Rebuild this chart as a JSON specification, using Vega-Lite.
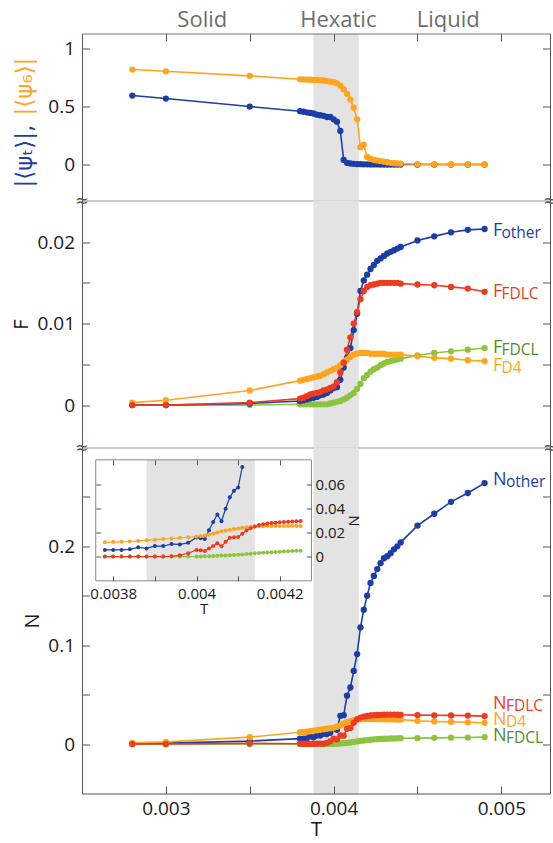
{
"$schema": "https://vega.github.io/schema/vega-lite/v6.json",
"padding": {"left": 11, "top": 8.5, "right": 0, "bottom": 0},
"bounds": "flush",
"spacing": 0,
"config": {
  "view": {"stroke": null},
  "font": "Open Sans",
  "axis": {"grid": false, "labelFont": "Open Sans", "titleFont": "Open Sans", "labelFontSize": 19, "titleFontSize": 20, "titleFontWeight": "normal", "labelColor": "#1a1a1a", "titleColor": "#1a1a1a", "domainColor": "#555", "tickColor": "#555", "tickSize": -7.5, "labelPadding": 13, "labelFlush": false, "labelOverlap": false}
},
"datasets": {
"main": [
{"p":"psi","s":"t","T":0.0028,"v":0.595},{"p":"psi","s":"t","T":0.003,"v":0.569},{"p":"psi","s":"t","T":0.0035,"v":0.5},{"p":"psi","s":"t","T":0.0038,"v":0.46},{"p":"psi","s":"t","T":0.00382,"v":0.455},{"p":"psi","s":"t","T":0.00384,"v":0.45},{"p":"psi","s":"t","T":0.00386,"v":0.445},{"p":"psi","s":"t","T":0.00388,"v":0.44},{"p":"psi","s":"t","T":0.0039,"v":0.43},{"p":"psi","s":"t","T":0.00392,"v":0.425},{"p":"psi","s":"t","T":0.00394,"v":0.42},{"p":"psi","s":"t","T":0.00396,"v":0.41},{"p":"psi","s":"t","T":0.00398,"v":0.41},{"p":"psi","s":"t","T":0.004,"v":0.39},{"p":"psi","s":"t","T":0.00402,"v":0.37},{"p":"psi","s":"t","T":0.00404,"v":0.29},{"p":"psi","s":"t","T":0.00406,"v":0.04},{"p":"psi","s":"t","T":0.00408,"v":0.015},{"p":"psi","s":"t","T":0.0041,"v":0.01},{"p":"psi","s":"t","T":0.00412,"v":0.006},{"p":"psi","s":"t","T":0.00414,"v":0.004},{"p":"psi","s":"t","T":0.00416,"v":0.003},{"p":"psi","s":"t","T":0.00418,"v":0.002},{"p":"psi","s":"t","T":0.0042,"v":0.002},{"p":"psi","s":"t","T":0.00422,"v":0.001},{"p":"psi","s":"t","T":0.00424,"v":0.001},{"p":"psi","s":"t","T":0.00426,"v":0.001},{"p":"psi","s":"t","T":0.00428,"v":0},{"p":"psi","s":"t","T":0.0043,"v":0},{"p":"psi","s":"t","T":0.00432,"v":0},{"p":"psi","s":"t","T":0.00434,"v":0},{"p":"psi","s":"t","T":0.00436,"v":0},{"p":"psi","s":"t","T":0.00438,"v":0},{"p":"psi","s":"t","T":0.0044,"v":0},{"p":"psi","s":"t","T":0.0045,"v":0},{"p":"psi","s":"t","T":0.0046,"v":0},{"p":"psi","s":"t","T":0.0047,"v":0},{"p":"psi","s":"t","T":0.0048,"v":0},{"p":"psi","s":"t","T":0.0049,"v":0},
{"p":"psi","s":"6","T":0.0028,"v":0.819},{"p":"psi","s":"6","T":0.003,"v":0.804},{"p":"psi","s":"6","T":0.0035,"v":0.765},{"p":"psi","s":"6","T":0.0038,"v":0.735},{"p":"psi","s":"6","T":0.00382,"v":0.735},{"p":"psi","s":"6","T":0.00384,"v":0.733},{"p":"psi","s":"6","T":0.00386,"v":0.732},{"p":"psi","s":"6","T":0.00388,"v":0.73},{"p":"psi","s":"6","T":0.0039,"v":0.73},{"p":"psi","s":"6","T":0.00392,"v":0.728},{"p":"psi","s":"6","T":0.00394,"v":0.725},{"p":"psi","s":"6","T":0.00396,"v":0.72},{"p":"psi","s":"6","T":0.00398,"v":0.715},{"p":"psi","s":"6","T":0.004,"v":0.71},{"p":"psi","s":"6","T":0.00402,"v":0.7},{"p":"psi","s":"6","T":0.00404,"v":0.68},{"p":"psi","s":"6","T":0.00406,"v":0.65},{"p":"psi","s":"6","T":0.00408,"v":0.61},{"p":"psi","s":"6","T":0.0041,"v":0.56},{"p":"psi","s":"6","T":0.00412,"v":0.49},{"p":"psi","s":"6","T":0.00414,"v":0.39},{"p":"psi","s":"6","T":0.00416,"v":0.15},{"p":"psi","s":"6","T":0.00418,"v":0.17},{"p":"psi","s":"6","T":0.0042,"v":0.065},{"p":"psi","s":"6","T":0.00422,"v":0.05},{"p":"psi","s":"6","T":0.00424,"v":0.04},{"p":"psi","s":"6","T":0.00426,"v":0.035},{"p":"psi","s":"6","T":0.00428,"v":0.03},{"p":"psi","s":"6","T":0.0043,"v":0.025},{"p":"psi","s":"6","T":0.00432,"v":0.02},{"p":"psi","s":"6","T":0.00434,"v":0.015},{"p":"psi","s":"6","T":0.00436,"v":0.012},{"p":"psi","s":"6","T":0.00438,"v":0.01},{"p":"psi","s":"6","T":0.0044,"v":0.008},{"p":"psi","s":"6","T":0.0045,"v":0.004},{"p":"psi","s":"6","T":0.0046,"v":0.002},{"p":"psi","s":"6","T":0.0047,"v":0.001},{"p":"psi","s":"6","T":0.0048,"v":0.001},{"p":"psi","s":"6","T":0.0049,"v":0.001},
{"p":"F","s":"FDCL","T":0.0028,"v":0},{"p":"F","s":"FDCL","T":0.003,"v":0},{"p":"F","s":"FDCL","T":0.0035,"v":0},{"p":"F","s":"FDCL","T":0.0038,"v":0.0001},{"p":"F","s":"FDCL","T":0.00382,"v":0.0001},{"p":"F","s":"FDCL","T":0.00384,"v":0.0001},{"p":"F","s":"FDCL","T":0.00386,"v":0.0001},{"p":"F","s":"FDCL","T":0.00388,"v":0.0001},{"p":"F","s":"FDCL","T":0.0039,"v":0.0001},{"p":"F","s":"FDCL","T":0.00392,"v":0.0001},{"p":"F","s":"FDCL","T":0.00394,"v":0.0001},{"p":"F","s":"FDCL","T":0.00396,"v":0.0001},{"p":"F","s":"FDCL","T":0.00398,"v":0.0002},{"p":"F","s":"FDCL","T":0.004,"v":0.0003},{"p":"F","s":"FDCL","T":0.00402,"v":0.0004},{"p":"F","s":"FDCL","T":0.00404,"v":0.0005},{"p":"F","s":"FDCL","T":0.00406,"v":0.0007},{"p":"F","s":"FDCL","T":0.00408,"v":0.0009},{"p":"F","s":"FDCL","T":0.0041,"v":0.0012},{"p":"F","s":"FDCL","T":0.00412,"v":0.0015},{"p":"F","s":"FDCL","T":0.00414,"v":0.002},{"p":"F","s":"FDCL","T":0.00416,"v":0.0026},{"p":"F","s":"FDCL","T":0.00418,"v":0.0033},{"p":"F","s":"FDCL","T":0.0042,"v":0.0037},{"p":"F","s":"FDCL","T":0.00422,"v":0.0041},{"p":"F","s":"FDCL","T":0.00424,"v":0.0044},{"p":"F","s":"FDCL","T":0.00426,"v":0.0046},{"p":"F","s":"FDCL","T":0.00428,"v":0.0049},{"p":"F","s":"FDCL","T":0.0043,"v":0.0051},{"p":"F","s":"FDCL","T":0.00432,"v":0.0053},{"p":"F","s":"FDCL","T":0.00434,"v":0.0054},{"p":"F","s":"FDCL","T":0.00436,"v":0.0055},{"p":"F","s":"FDCL","T":0.00438,"v":0.0056},{"p":"F","s":"FDCL","T":0.0044,"v":0.0057},{"p":"F","s":"FDCL","T":0.0045,"v":0.0061},{"p":"F","s":"FDCL","T":0.0046,"v":0.0064},{"p":"F","s":"FDCL","T":0.0047,"v":0.0066},{"p":"F","s":"FDCL","T":0.0048,"v":0.0068},{"p":"F","s":"FDCL","T":0.0049,"v":0.007},
{"p":"F","s":"other","T":0.0028,"v":0},{"p":"F","s":"other","T":0.003,"v":0},{"p":"F","s":"other","T":0.0035,"v":0.0002},{"p":"F","s":"other","T":0.0038,"v":0.0005},{"p":"F","s":"other","T":0.00382,"v":0.0006},{"p":"F","s":"other","T":0.00384,"v":0.0007},{"p":"F","s":"other","T":0.00386,"v":0.0008},{"p":"F","s":"other","T":0.00388,"v":0.0009},{"p":"F","s":"other","T":0.0039,"v":0.001},{"p":"F","s":"other","T":0.00392,"v":0.0012},{"p":"F","s":"other","T":0.00394,"v":0.0013},{"p":"F","s":"other","T":0.00396,"v":0.0015},{"p":"F","s":"other","T":0.00398,"v":0.0018},{"p":"F","s":"other","T":0.004,"v":0.0021},{"p":"F","s":"other","T":0.00402,"v":0.0022},{"p":"F","s":"other","T":0.00404,"v":0.0031},{"p":"F","s":"other","T":0.00406,"v":0.0046},{"p":"F","s":"other","T":0.00408,"v":0.0058},{"p":"F","s":"other","T":0.0041,"v":0.007},{"p":"F","s":"other","T":0.00412,"v":0.0092},{"p":"F","s":"other","T":0.00414,"v":0.0112},{"p":"F","s":"other","T":0.00416,"v":0.014},{"p":"F","s":"other","T":0.00418,"v":0.0153},{"p":"F","s":"other","T":0.0042,"v":0.016},{"p":"F","s":"other","T":0.00422,"v":0.0167},{"p":"F","s":"other","T":0.00424,"v":0.0172},{"p":"F","s":"other","T":0.00426,"v":0.0177},{"p":"F","s":"other","T":0.00428,"v":0.018},{"p":"F","s":"other","T":0.0043,"v":0.0183},{"p":"F","s":"other","T":0.00432,"v":0.0186},{"p":"F","s":"other","T":0.00434,"v":0.0188},{"p":"F","s":"other","T":0.00436,"v":0.019},{"p":"F","s":"other","T":0.00438,"v":0.0192},{"p":"F","s":"other","T":0.0044,"v":0.0194},{"p":"F","s":"other","T":0.0045,"v":0.0202},{"p":"F","s":"other","T":0.0046,"v":0.0207},{"p":"F","s":"other","T":0.0047,"v":0.0212},{"p":"F","s":"other","T":0.0048,"v":0.0215},{"p":"F","s":"other","T":0.0049,"v":0.0216},
{"p":"F","s":"D4","T":0.0028,"v":0.0003},{"p":"F","s":"D4","T":0.003,"v":0.0006},{"p":"F","s":"D4","T":0.0035,"v":0.0018},{"p":"F","s":"D4","T":0.0038,"v":0.003},{"p":"F","s":"D4","T":0.00382,"v":0.0031},{"p":"F","s":"D4","T":0.00384,"v":0.0032},{"p":"F","s":"D4","T":0.00386,"v":0.0033},{"p":"F","s":"D4","T":0.00388,"v":0.0034},{"p":"F","s":"D4","T":0.0039,"v":0.0035},{"p":"F","s":"D4","T":0.00392,"v":0.0036},{"p":"F","s":"D4","T":0.00394,"v":0.0038},{"p":"F","s":"D4","T":0.00396,"v":0.004},{"p":"F","s":"D4","T":0.00398,"v":0.0042},{"p":"F","s":"D4","T":0.004,"v":0.0044},{"p":"F","s":"D4","T":0.00402,"v":0.0046},{"p":"F","s":"D4","T":0.00404,"v":0.0049},{"p":"F","s":"D4","T":0.00406,"v":0.0053},{"p":"F","s":"D4","T":0.00408,"v":0.0056},{"p":"F","s":"D4","T":0.0041,"v":0.0059},{"p":"F","s":"D4","T":0.00412,"v":0.0062},{"p":"F","s":"D4","T":0.00414,"v":0.0063},{"p":"F","s":"D4","T":0.00416,"v":0.0064},{"p":"F","s":"D4","T":0.00418,"v":0.0064},{"p":"F","s":"D4","T":0.0042,"v":0.0064},{"p":"F","s":"D4","T":0.00422,"v":0.0063},{"p":"F","s":"D4","T":0.00424,"v":0.0063},{"p":"F","s":"D4","T":0.00426,"v":0.0063},{"p":"F","s":"D4","T":0.00428,"v":0.0063},{"p":"F","s":"D4","T":0.0043,"v":0.0063},{"p":"F","s":"D4","T":0.00432,"v":0.0062},{"p":"F","s":"D4","T":0.00434,"v":0.0062},{"p":"F","s":"D4","T":0.00436,"v":0.0062},{"p":"F","s":"D4","T":0.00438,"v":0.0062},{"p":"F","s":"D4","T":0.0044,"v":0.0062},{"p":"F","s":"D4","T":0.0045,"v":0.006},{"p":"F","s":"D4","T":0.0046,"v":0.0058},{"p":"F","s":"D4","T":0.0047,"v":0.0057},{"p":"F","s":"D4","T":0.0048,"v":0.0055},{"p":"F","s":"D4","T":0.0049,"v":0.0054},
{"p":"F","s":"FDLC","T":0.0028,"v":0},{"p":"F","s":"FDLC","T":0.003,"v":0},{"p":"F","s":"FDLC","T":0.0035,"v":0.0003},{"p":"F","s":"FDLC","T":0.0038,"v":0.0008},{"p":"F","s":"FDLC","T":0.00382,"v":0.0009},{"p":"F","s":"FDLC","T":0.00384,"v":0.0011},{"p":"F","s":"FDLC","T":0.00386,"v":0.0013},{"p":"F","s":"FDLC","T":0.00388,"v":0.0014},{"p":"F","s":"FDLC","T":0.0039,"v":0.0015},{"p":"F","s":"FDLC","T":0.00392,"v":0.0016},{"p":"F","s":"FDLC","T":0.00394,"v":0.0018},{"p":"F","s":"FDLC","T":0.00396,"v":0.0019},{"p":"F","s":"FDLC","T":0.00398,"v":0.0021},{"p":"F","s":"FDLC","T":0.004,"v":0.0023},{"p":"F","s":"FDLC","T":0.00402,"v":0.0028},{"p":"F","s":"FDLC","T":0.00404,"v":0.004},{"p":"F","s":"FDLC","T":0.00406,"v":0.0052},{"p":"F","s":"FDLC","T":0.00408,"v":0.0068},{"p":"F","s":"FDLC","T":0.0041,"v":0.0083},{"p":"F","s":"FDLC","T":0.00412,"v":0.01},{"p":"F","s":"FDLC","T":0.00414,"v":0.0114},{"p":"F","s":"FDLC","T":0.00416,"v":0.013},{"p":"F","s":"FDLC","T":0.00418,"v":0.014},{"p":"F","s":"FDLC","T":0.0042,"v":0.0145},{"p":"F","s":"FDLC","T":0.00422,"v":0.0147},{"p":"F","s":"FDLC","T":0.00424,"v":0.0148},{"p":"F","s":"FDLC","T":0.00426,"v":0.0149},{"p":"F","s":"FDLC","T":0.00428,"v":0.015},{"p":"F","s":"FDLC","T":0.0043,"v":0.015},{"p":"F","s":"FDLC","T":0.00432,"v":0.015},{"p":"F","s":"FDLC","T":0.00434,"v":0.015},{"p":"F","s":"FDLC","T":0.00436,"v":0.015},{"p":"F","s":"FDLC","T":0.00438,"v":0.015},{"p":"F","s":"FDLC","T":0.0044,"v":0.0149},{"p":"F","s":"FDLC","T":0.0045,"v":0.0148},{"p":"F","s":"FDLC","T":0.0046,"v":0.0147},{"p":"F","s":"FDLC","T":0.0047,"v":0.0145},{"p":"F","s":"FDLC","T":0.0048,"v":0.0143},{"p":"F","s":"FDLC","T":0.0049,"v":0.0139},
{"p":"N","s":"FDCL","T":0.0028,"v":0},{"p":"N","s":"FDCL","T":0.003,"v":0},{"p":"N","s":"FDCL","T":0.0035,"v":0},{"p":"N","s":"FDCL","T":0.0038,"v":0},{"p":"N","s":"FDCL","T":0.00382,"v":0},{"p":"N","s":"FDCL","T":0.00384,"v":0},{"p":"N","s":"FDCL","T":0.00386,"v":0},{"p":"N","s":"FDCL","T":0.00388,"v":0},{"p":"N","s":"FDCL","T":0.0039,"v":0},{"p":"N","s":"FDCL","T":0.00392,"v":0},{"p":"N","s":"FDCL","T":0.00394,"v":0},{"p":"N","s":"FDCL","T":0.00396,"v":0},{"p":"N","s":"FDCL","T":0.00398,"v":0},{"p":"N","s":"FDCL","T":0.004,"v":0},{"p":"N","s":"FDCL","T":0.00402,"v":0.0003},{"p":"N","s":"FDCL","T":0.00404,"v":0.0005},{"p":"N","s":"FDCL","T":0.00406,"v":0.0009},{"p":"N","s":"FDCL","T":0.00408,"v":0.0012},{"p":"N","s":"FDCL","T":0.0041,"v":0.0016},{"p":"N","s":"FDCL","T":0.00412,"v":0.0021},{"p":"N","s":"FDCL","T":0.00414,"v":0.0027},{"p":"N","s":"FDCL","T":0.00416,"v":0.0032},{"p":"N","s":"FDCL","T":0.00418,"v":0.0036},{"p":"N","s":"FDCL","T":0.0042,"v":0.004},{"p":"N","s":"FDCL","T":0.00422,"v":0.0044},{"p":"N","s":"FDCL","T":0.00424,"v":0.0048},{"p":"N","s":"FDCL","T":0.00426,"v":0.005},{"p":"N","s":"FDCL","T":0.00428,"v":0.0052},{"p":"N","s":"FDCL","T":0.0043,"v":0.0054},{"p":"N","s":"FDCL","T":0.00432,"v":0.0055},{"p":"N","s":"FDCL","T":0.00434,"v":0.0056},{"p":"N","s":"FDCL","T":0.00436,"v":0.0057},{"p":"N","s":"FDCL","T":0.00438,"v":0.0058},{"p":"N","s":"FDCL","T":0.0044,"v":0.0059},{"p":"N","s":"FDCL","T":0.0045,"v":0.006},{"p":"N","s":"FDCL","T":0.0046,"v":0.0063},{"p":"N","s":"FDCL","T":0.0047,"v":0.0065},{"p":"N","s":"FDCL","T":0.0048,"v":0.0066},{"p":"N","s":"FDCL","T":0.0049,"v":0.007},
{"p":"N","s":"other","T":0.0028,"v":0.0005},{"p":"N","s":"other","T":0.003,"v":0.001},{"p":"N","s":"other","T":0.0035,"v":0.003},{"p":"N","s":"other","T":0.0038,"v":0.0055},{"p":"N","s":"other","T":0.00382,"v":0.0055},{"p":"N","s":"other","T":0.00384,"v":0.0058},{"p":"N","s":"other","T":0.00386,"v":0.0077},{"p":"N","s":"other","T":0.00388,"v":0.0068},{"p":"N","s":"other","T":0.0039,"v":0.0087},{"p":"N","s":"other","T":0.00392,"v":0.0087},{"p":"N","s":"other","T":0.00394,"v":0.0104},{"p":"N","s":"other","T":0.00396,"v":0.0101},{"p":"N","s":"other","T":0.00398,"v":0.0114},{"p":"N","s":"other","T":0.004,"v":0.0159},{"p":"N","s":"other","T":0.00402,"v":0.0145},{"p":"N","s":"other","T":0.00404,"v":0.0286},{"p":"N","s":"other","T":0.00406,"v":0.0292},{"p":"N","s":"other","T":0.00408,"v":0.049},{"p":"N","s":"other","T":0.0041,"v":0.0572},{"p":"N","s":"other","T":0.00412,"v":0.074},{"p":"N","s":"other","T":0.00414,"v":0.091},{"p":"N","s":"other","T":0.00416,"v":0.118},{"p":"N","s":"other","T":0.00418,"v":0.136},{"p":"N","s":"other","T":0.0042,"v":0.15},{"p":"N","s":"other","T":0.00422,"v":0.163},{"p":"N","s":"other","T":0.00424,"v":0.17},{"p":"N","s":"other","T":0.00426,"v":0.177},{"p":"N","s":"other","T":0.00428,"v":0.183},{"p":"N","s":"other","T":0.0043,"v":0.188},{"p":"N","s":"other","T":0.00432,"v":0.19},{"p":"N","s":"other","T":0.00434,"v":0.193},{"p":"N","s":"other","T":0.00436,"v":0.197},{"p":"N","s":"other","T":0.00438,"v":0.2},{"p":"N","s":"other","T":0.0044,"v":0.204},{"p":"N","s":"other","T":0.0045,"v":0.221},{"p":"N","s":"other","T":0.0046,"v":0.233},{"p":"N","s":"other","T":0.0047,"v":0.245},{"p":"N","s":"other","T":0.0048,"v":0.254},{"p":"N","s":"other","T":0.0049,"v":0.264},
{"p":"N","s":"D4","T":0.0028,"v":0.0012},{"p":"N","s":"D4","T":0.003,"v":0.0022},{"p":"N","s":"D4","T":0.0035,"v":0.007},{"p":"N","s":"D4","T":0.0038,"v":0.012},{"p":"N","s":"D4","T":0.00382,"v":0.0122},{"p":"N","s":"D4","T":0.00384,"v":0.0125},{"p":"N","s":"D4","T":0.00386,"v":0.013},{"p":"N","s":"D4","T":0.00388,"v":0.0135},{"p":"N","s":"D4","T":0.0039,"v":0.014},{"p":"N","s":"D4","T":0.00392,"v":0.0145},{"p":"N","s":"D4","T":0.00394,"v":0.015},{"p":"N","s":"D4","T":0.00396,"v":0.0155},{"p":"N","s":"D4","T":0.00398,"v":0.016},{"p":"N","s":"D4","T":0.004,"v":0.0165},{"p":"N","s":"D4","T":0.00402,"v":0.0175},{"p":"N","s":"D4","T":0.00404,"v":0.019},{"p":"N","s":"D4","T":0.00406,"v":0.021},{"p":"N","s":"D4","T":0.00408,"v":0.0222},{"p":"N","s":"D4","T":0.0041,"v":0.0233},{"p":"N","s":"D4","T":0.00412,"v":0.0242},{"p":"N","s":"D4","T":0.00414,"v":0.0249},{"p":"N","s":"D4","T":0.00416,"v":0.0252},{"p":"N","s":"D4","T":0.00418,"v":0.0253},{"p":"N","s":"D4","T":0.0042,"v":0.0253},{"p":"N","s":"D4","T":0.00422,"v":0.0253},{"p":"N","s":"D4","T":0.00424,"v":0.0253},{"p":"N","s":"D4","T":0.00426,"v":0.0252},{"p":"N","s":"D4","T":0.00428,"v":0.0252},{"p":"N","s":"D4","T":0.0043,"v":0.0251},{"p":"N","s":"D4","T":0.00432,"v":0.025},{"p":"N","s":"D4","T":0.00434,"v":0.025},{"p":"N","s":"D4","T":0.00436,"v":0.0249},{"p":"N","s":"D4","T":0.00438,"v":0.0248},{"p":"N","s":"D4","T":0.0044,"v":0.0247},{"p":"N","s":"D4","T":0.0045,"v":0.0235},{"p":"N","s":"D4","T":0.0046,"v":0.0229},{"p":"N","s":"D4","T":0.0047,"v":0.0225},{"p":"N","s":"D4","T":0.0048,"v":0.022},{"p":"N","s":"D4","T":0.0049,"v":0.0215},
{"p":"N","s":"FDLC","T":0.0028,"v":0},{"p":"N","s":"FDLC","T":0.003,"v":0},{"p":"N","s":"FDLC","T":0.0035,"v":0.0007},{"p":"N","s":"FDLC","T":0.0038,"v":0.0003},{"p":"N","s":"FDLC","T":0.00382,"v":0.0003},{"p":"N","s":"FDLC","T":0.00384,"v":0.0003},{"p":"N","s":"FDLC","T":0.00386,"v":0.0003},{"p":"N","s":"FDLC","T":0.00388,"v":0.0004},{"p":"N","s":"FDLC","T":0.0039,"v":0.0004},{"p":"N","s":"FDLC","T":0.00392,"v":0.0005},{"p":"N","s":"FDLC","T":0.00394,"v":0.0005},{"p":"N","s":"FDLC","T":0.00396,"v":0.0012},{"p":"N","s":"FDLC","T":0.00398,"v":0.0028},{"p":"N","s":"FDLC","T":0.004,"v":0.0055},{"p":"N","s":"FDLC","T":0.00402,"v":0.0047},{"p":"N","s":"FDLC","T":0.00404,"v":0.0087},{"p":"N","s":"FDLC","T":0.00406,"v":0.0085},{"p":"N","s":"FDLC","T":0.00408,"v":0.0155},{"p":"N","s":"FDLC","T":0.0041,"v":0.0163},{"p":"N","s":"FDLC","T":0.00412,"v":0.0215},{"p":"N","s":"FDLC","T":0.00414,"v":0.025},{"p":"N","s":"FDLC","T":0.00416,"v":0.0268},{"p":"N","s":"FDLC","T":0.00418,"v":0.0278},{"p":"N","s":"FDLC","T":0.0042,"v":0.0284},{"p":"N","s":"FDLC","T":0.00422,"v":0.0289},{"p":"N","s":"FDLC","T":0.00424,"v":0.0292},{"p":"N","s":"FDLC","T":0.00426,"v":0.0294},{"p":"N","s":"FDLC","T":0.00428,"v":0.0296},{"p":"N","s":"FDLC","T":0.0043,"v":0.0297},{"p":"N","s":"FDLC","T":0.00432,"v":0.0298},{"p":"N","s":"FDLC","T":0.00434,"v":0.0298},{"p":"N","s":"FDLC","T":0.00436,"v":0.0298},{"p":"N","s":"FDLC","T":0.00438,"v":0.0297},{"p":"N","s":"FDLC","T":0.0044,"v":0.0296},{"p":"N","s":"FDLC","T":0.0045,"v":0.0293},{"p":"N","s":"FDLC","T":0.0046,"v":0.0291},{"p":"N","s":"FDLC","T":0.0047,"v":0.029},{"p":"N","s":"FDLC","T":0.0048,"v":0.0288},{"p":"N","s":"FDLC","T":0.0049,"v":0.0283}
],
"inset": [
{"s":"FDCL","T":0.00378,"v":0},{"s":"FDCL","T":0.0038,"v":0},{"s":"FDCL","T":0.00382,"v":0},{"s":"FDCL","T":0.00384,"v":0},{"s":"FDCL","T":0.00386,"v":0},{"s":"FDCL","T":0.00388,"v":0},{"s":"FDCL","T":0.0039,"v":0},{"s":"FDCL","T":0.00392,"v":0},{"s":"FDCL","T":0.00394,"v":0},{"s":"FDCL","T":0.00396,"v":0},{"s":"FDCL","T":0.00398,"v":0},{"s":"FDCL","T":0.004,"v":0},{"s":"FDCL","T":0.00401,"v":0.0002},{"s":"FDCL","T":0.00402,"v":0.0003},{"s":"FDCL","T":0.00403,"v":0.0004},{"s":"FDCL","T":0.00404,"v":0.0005},{"s":"FDCL","T":0.00405,"v":0.0007},{"s":"FDCL","T":0.00406,"v":0.0009},{"s":"FDCL","T":0.00407,"v":0.001},{"s":"FDCL","T":0.00408,"v":0.0012},{"s":"FDCL","T":0.00409,"v":0.0014},{"s":"FDCL","T":0.0041,"v":0.0016},{"s":"FDCL","T":0.00411,"v":0.0018},{"s":"FDCL","T":0.00412,"v":0.0021},{"s":"FDCL","T":0.00413,"v":0.0024},{"s":"FDCL","T":0.00414,"v":0.0027},{"s":"FDCL","T":0.00415,"v":0.003},{"s":"FDCL","T":0.00416,"v":0.0032},{"s":"FDCL","T":0.00417,"v":0.0034},{"s":"FDCL","T":0.00418,"v":0.0036},{"s":"FDCL","T":0.00419,"v":0.0038},{"s":"FDCL","T":0.0042,"v":0.004},{"s":"FDCL","T":0.00421,"v":0.0042},{"s":"FDCL","T":0.00422,"v":0.0044},{"s":"FDCL","T":0.00423,"v":0.0046},{"s":"FDCL","T":0.00424,"v":0.0048},{"s":"FDCL","T":0.00425,"v":0.0049},
{"s":"other","T":0.00378,"v":0.0055},{"s":"other","T":0.0038,"v":0.0055},{"s":"other","T":0.00382,"v":0.0055},{"s":"other","T":0.00384,"v":0.006},{"s":"other","T":0.00386,"v":0.0077},{"s":"other","T":0.00388,"v":0.0068},{"s":"other","T":0.0039,"v":0.0087},{"s":"other","T":0.00392,"v":0.0087},{"s":"other","T":0.00394,"v":0.0104},{"s":"other","T":0.00396,"v":0.0101},{"s":"other","T":0.00398,"v":0.0114},{"s":"other","T":0.004,"v":0.0159},{"s":"other","T":0.00401,"v":0.0152},{"s":"other","T":0.00402,"v":0.0145},{"s":"other","T":0.00403,"v":0.0218},{"s":"other","T":0.00404,"v":0.0286},{"s":"other","T":0.00405,"v":0.0349},{"s":"other","T":0.00406,"v":0.0292},{"s":"other","T":0.00407,"v":0.0396},{"s":"other","T":0.00408,"v":0.049},{"s":"other","T":0.00409,"v":0.0545},{"s":"other","T":0.0041,"v":0.0572},{"s":"other","T":0.00411,"v":0.0741},
{"s":"D4","T":0.00378,"v":0.0118},{"s":"D4","T":0.0038,"v":0.012},{"s":"D4","T":0.00382,"v":0.0122},{"s":"D4","T":0.00384,"v":0.0125},{"s":"D4","T":0.00386,"v":0.013},{"s":"D4","T":0.00388,"v":0.0135},{"s":"D4","T":0.0039,"v":0.014},{"s":"D4","T":0.00392,"v":0.0145},{"s":"D4","T":0.00394,"v":0.015},{"s":"D4","T":0.00396,"v":0.0155},{"s":"D4","T":0.00398,"v":0.016},{"s":"D4","T":0.004,"v":0.0165},{"s":"D4","T":0.00401,"v":0.017},{"s":"D4","T":0.00402,"v":0.0175},{"s":"D4","T":0.00403,"v":0.018},{"s":"D4","T":0.00404,"v":0.019},{"s":"D4","T":0.00405,"v":0.02},{"s":"D4","T":0.00406,"v":0.021},{"s":"D4","T":0.00407,"v":0.0215},{"s":"D4","T":0.00408,"v":0.0222},{"s":"D4","T":0.00409,"v":0.0228},{"s":"D4","T":0.0041,"v":0.0233},{"s":"D4","T":0.00411,"v":0.0238},{"s":"D4","T":0.00412,"v":0.0242},{"s":"D4","T":0.00413,"v":0.0246},{"s":"D4","T":0.00414,"v":0.0249},{"s":"D4","T":0.00415,"v":0.0251},{"s":"D4","T":0.00416,"v":0.0252},{"s":"D4","T":0.00417,"v":0.0253},{"s":"D4","T":0.00418,"v":0.0253},{"s":"D4","T":0.00419,"v":0.0253},{"s":"D4","T":0.0042,"v":0.0253},{"s":"D4","T":0.00421,"v":0.0253},{"s":"D4","T":0.00422,"v":0.0253},{"s":"D4","T":0.00423,"v":0.0253},{"s":"D4","T":0.00424,"v":0.0253},{"s":"D4","T":0.00425,"v":0.0253},
{"s":"FDLC","T":0.00378,"v":0},{"s":"FDLC","T":0.0038,"v":0},{"s":"FDLC","T":0.00382,"v":0},{"s":"FDLC","T":0.00384,"v":0},{"s":"FDLC","T":0.00386,"v":0},{"s":"FDLC","T":0.00388,"v":0},{"s":"FDLC","T":0.0039,"v":0},{"s":"FDLC","T":0.00392,"v":0},{"s":"FDLC","T":0.00394,"v":0.0003},{"s":"FDLC","T":0.00396,"v":0.0012},{"s":"FDLC","T":0.00398,"v":0.0028},{"s":"FDLC","T":0.004,"v":0.0055},{"s":"FDLC","T":0.00401,"v":0.0052},{"s":"FDLC","T":0.00402,"v":0.0047},{"s":"FDLC","T":0.00403,"v":0.0068},{"s":"FDLC","T":0.00404,"v":0.0087},{"s":"FDLC","T":0.00405,"v":0.011},{"s":"FDLC","T":0.00406,"v":0.0085},{"s":"FDLC","T":0.00407,"v":0.0123},{"s":"FDLC","T":0.00408,"v":0.0155},{"s":"FDLC","T":0.00409,"v":0.016},{"s":"FDLC","T":0.0041,"v":0.0163},{"s":"FDLC","T":0.00411,"v":0.019},{"s":"FDLC","T":0.00412,"v":0.0215},{"s":"FDLC","T":0.00413,"v":0.0235},{"s":"FDLC","T":0.00414,"v":0.025},{"s":"FDLC","T":0.00415,"v":0.0262},{"s":"FDLC","T":0.00416,"v":0.0268},{"s":"FDLC","T":0.00417,"v":0.0274},{"s":"FDLC","T":0.00418,"v":0.0278},{"s":"FDLC","T":0.00419,"v":0.0281},{"s":"FDLC","T":0.0042,"v":0.0284},{"s":"FDLC","T":0.00421,"v":0.0287},{"s":"FDLC","T":0.00422,"v":0.0289},{"s":"FDLC","T":0.00423,"v":0.029},{"s":"FDLC","T":0.00424,"v":0.0292},{"s":"FDLC","T":0.00425,"v":0.0294}
],
"flab": [{"k":"other","b":"F","sub":"other","T":0.00495,"v":0.0208},{"k":"FDLC","b":"F","sub":"FDLC","T":0.00495,"v":0.0133},{"k":"FDCLt","b":"F","sub":"FDCL","T":0.00495,"v":0.00635},{"k":"D4","b":"F","sub":"D4","T":0.00495,"v":0.0042}],
"nlab": [{"k":"other","b":"N","sub":"other","T":0.00495,"v":0.2616},{"k":"FDLC","b":"N","sub":"FDLC","T":0.00495,"v":0.0351},{"k":"D4","b":"N","sub":"D4","T":0.00495,"v":0.0189},{"k":"FDCLt","b":"N","sub":"FDCL","T":0.00495,"v":0.0029}]
},
"vconcat": [
{
 "width": 468, "height": 167,
 "resolve": {"axis": {"x": "independent", "y": "independent"}},
 "layer": [
  {"data": {"values": [{"a": 0.00388, "b": 0.00415}]}, "mark": {"type": "rect", "color": "#e3e3e3"},
   "encoding": {"x": {"field": "a", "type": "quantitative", "scale": {"domain": [0.0025, 0.00529], "nice": false, "zero": false}, "axis": {"orient": "bottom", "domainColor": "#9a9a9a", "ticks": false, "labels": false, "title": null, "zindex": 1}}, "x2": {"field": "b"}}},
  {"data": {"name": "main"}, "transform": [{"filter": "datum.p === 'psi'"}], "mark": {"type": "line", "strokeWidth": 1.6},
   "encoding": {"x": {"field": "T", "type": "quantitative", "scale": {"domain": [0.0025, 0.00529], "nice": false, "zero": false}, "axis": {"orient": "top", "values": [0.003, 0.0035, 0.004, 0.0045, 0.005], "labels": false, "title": null, "domainColor": "#777", "zindex": 1}},
    "y": {"field": "v", "type": "quantitative", "scale": {"domain": [-0.31, 1.13], "nice": false, "zero": false}, "axis": {"orient": "left", "values": [0, 0.5, 1], "format": "~g", "title": null, "labelPadding": 15, "zindex": 1}},
    "color": {"field": "s", "type": "nominal", "scale": {"domain": ["t","6","FDCL","other","D4","FDLC","FDCLt"], "range": ["#1b3da8","#ffa51d","#8cc43f","#1b3da8","#ffa51d","#ee3a1f","#4f8c2c"]}, "legend": null}}},
  {"data": {"name": "main"}, "transform": [{"filter": "datum.p === 'psi'"}], "mark": {"type": "circle", "size": 40, "opacity": 1},
   "encoding": {"x": {"field": "T", "type": "quantitative", "scale": {"domain": [0.0025, 0.00529], "nice": false, "zero": false}, "axis": null},
    "y": {"field": "v", "type": "quantitative", "scale": {"domain": [-0.31, 1.13], "nice": false, "zero": false}, "axis": {"orient": "right", "values": [0, 0.5, 1], "labels": false, "title": null, "zindex": 1}},
    "color": {"field": "s", "type": "nominal", "scale": {"domain": ["t","6","FDCL","other","D4","FDLC","FDCLt"], "range": ["#1b3da8","#ffa51d","#8cc43f","#1b3da8","#ffa51d","#ee3a1f","#4f8c2c"]}, "legend": null}}},
  {"data": {"values": [{"t": "Solid", "T": 0.003217, "v": 1.25}, {"t": "Hexatic", "T": 0.004028, "v": 1.25}, {"t": "Liquid", "T": 0.004683, "v": 1.25}]},
   "mark": {"type": "text", "fontSize": 22, "color": "#6d6d6d", "baseline": "middle"},
   "encoding": {"x": {"field": "T", "type": "quantitative", "scale": {"domain": [0.0025, 0.00529], "nice": false, "zero": false}, "axis": null},
    "y": {"field": "v", "type": "quantitative", "scale": {"domain": [-0.31, 1.13], "nice": false, "zero": false}, "axis": null}, "text": {"field": "t"}}},
  {"data": {"values": [{"t": "|⟨ψₜ⟩|,", "k": "t", "T": 0.002158, "v": -0.198}]},
   "mark": {"type": "text", "fontSize": 23, "font": "DejaVu Sans", "angle": 270, "align": "left", "baseline": "middle"},
   "encoding": {"x": {"field": "T", "type": "quantitative", "scale": {"domain": [0.0025, 0.00529], "nice": false, "zero": false}, "axis": null},
    "y": {"field": "v", "type": "quantitative", "scale": {"domain": [-0.31, 1.13], "nice": false, "zero": false}, "axis": null}, "text": {"field": "t"},
    "color": {"field": "k", "type": "nominal", "scale": {"domain": ["t","6","FDCL","other","D4","FDLC","FDCLt"], "range": ["#1b3da8","#ffa51d","#8cc43f","#1b3da8","#ffa51d","#ee3a1f","#4f8c2c"]}, "legend": null}}},
  {"data": {"values": [{"t": "|⟨ψ₆⟩|", "k": "6", "T": 0.002158, "v": 0.922}]},
   "mark": {"type": "text", "fontSize": 23, "font": "DejaVu Sans", "angle": 270, "align": "right", "baseline": "middle"},
   "encoding": {"x": {"field": "T", "type": "quantitative", "scale": {"domain": [0.0025, 0.00529], "nice": false, "zero": false}, "axis": null},
    "y": {"field": "v", "type": "quantitative", "scale": {"domain": [-0.31, 1.13], "nice": false, "zero": false}, "axis": null}, "text": {"field": "t"},
    "color": {"field": "k", "type": "nominal", "scale": {"domain": ["t","6","FDCL","other","D4","FDLC","FDCLt"], "range": ["#1b3da8","#ffa51d","#8cc43f","#1b3da8","#ffa51d","#ee3a1f","#4f8c2c"]}, "legend": null}}}
 ]
},
{
 "width": 468, "height": 247,
 "resolve": {"axis": {"x": "independent", "y": "independent"}},
 "layer": [
  {"data": {"values": [{"a": 0.00388, "b": 0.00415}]}, "mark": {"type": "rect", "color": "#e3e3e3"},
   "encoding": {"x": {"field": "a", "type": "quantitative", "scale": {"domain": [0.0025, 0.00529], "nice": false, "zero": false}, "axis": {"orient": "bottom", "domainColor": "#9a9a9a", "ticks": false, "labels": false, "title": null, "zindex": 1}}, "x2": {"field": "b"}}},
  {"data": {"name": "main"}, "transform": [{"filter": "datum.p === 'F'"}], "mark": {"type": "line", "strokeWidth": 1.6},
   "encoding": {"x": {"field": "T", "type": "quantitative", "scale": {"domain": [0.0025, 0.00529], "nice": false, "zero": false}, "axis": null},
    "y": {"field": "v", "type": "quantitative", "scale": {"domain": [-0.0052, 0.0251], "nice": false, "zero": false}, "axis": {"orient": "left", "values": [0, 0.005, 0.01, 0.015, 0.02], "format": "~g", "labelExpr": "abs(datum.value*100 - round(datum.value*100)) < 0.01 ? datum.label : ''", "title": "F", "titlePadding": 5, "labelPadding": 15, "zindex": 1}},
    "color": {"field": "s", "type": "nominal", "scale": {"domain": ["t","6","FDCL","other","D4","FDLC","FDCLt"], "range": ["#1b3da8","#ffa51d","#8cc43f","#1b3da8","#ffa51d","#ee3a1f","#4f8c2c"]}, "legend": null}}},
  {"data": {"name": "main"}, "transform": [{"filter": "datum.p === 'F'"}], "mark": {"type": "circle", "size": 40, "opacity": 1},
   "encoding": {"x": {"field": "T", "type": "quantitative", "scale": {"domain": [0.0025, 0.00529], "nice": false, "zero": false}, "axis": null},
    "y": {"field": "v", "type": "quantitative", "scale": {"domain": [-0.0052, 0.0251], "nice": false, "zero": false}, "axis": {"orient": "right", "values": [0, 0.005, 0.01, 0.015, 0.02], "labels": false, "title": null, "zindex": 1}},
    "color": {"field": "s", "type": "nominal", "scale": {"domain": ["t","6","FDCL","other","D4","FDLC","FDCLt"], "range": ["#1b3da8","#ffa51d","#8cc43f","#1b3da8","#ffa51d","#ee3a1f","#4f8c2c"]}, "legend": null}}},
  {"data": {"name": "flab"}, "mark": {"type": "text", "align": "left", "baseline": "alphabetic", "fontSize": 18},
   "encoding": {"x": {"field": "T", "type": "quantitative", "scale": {"domain": [0.0025, 0.00529], "nice": false, "zero": false}, "axis": null},
    "y": {"field": "v", "type": "quantitative", "scale": {"domain": [-0.0052, 0.0251], "nice": false, "zero": false}, "axis": null}, "text": {"field": "b"},
    "color": {"field": "k", "type": "nominal", "scale": {"domain": ["t","6","FDCL","other","D4","FDLC","FDCLt"], "range": ["#1b3da8","#ffa51d","#8cc43f","#1b3da8","#ffa51d","#ee3a1f","#4f8c2c"]}, "legend": null}}},
  {"data": {"name": "flab"}, "mark": {"type": "text", "align": "left", "baseline": "alphabetic", "fontSize": 15.5, "dx": 8.5, "dy": 2},
   "encoding": {"x": {"field": "T", "type": "quantitative", "scale": {"domain": [0.0025, 0.00529], "nice": false, "zero": false}, "axis": null},
    "y": {"field": "v", "type": "quantitative", "scale": {"domain": [-0.0052, 0.0251], "nice": false, "zero": false}, "axis": null}, "text": {"field": "sub"},
    "color": {"field": "k", "type": "nominal", "scale": {"domain": ["t","6","FDCL","other","D4","FDLC","FDCLt"], "range": ["#1b3da8","#ffa51d","#8cc43f","#1b3da8","#ffa51d","#ee3a1f","#4f8c2c"]}, "legend": null}}},
  {"data": {"values": [{"T": 0.0025, "v": 0.0251}, {"T": 0.0025, "v": -0.0052}, {"T": 0.00529, "v": 0.0251}, {"T": 0.00529, "v": -0.0052}]},
   "mark": {"type": "text", "text": "≈", "fontSize": 16, "color": "#555", "baseline": "middle", "font": "DejaVu Sans"},
   "encoding": {"x": {"field": "T", "type": "quantitative", "scale": {"domain": [0.0025, 0.00529], "nice": false, "zero": false}, "axis": null},
    "y": {"field": "v", "type": "quantitative", "scale": {"domain": [-0.0052, 0.0251], "nice": false, "zero": false}, "axis": null}}}
 ]
},
{
 "width": 468, "height": 346,
 "resolve": {"scale": {"x": "independent", "y": "independent"}},
 "layer": [
  {
   "resolve": {"axis": {"x": "independent", "y": "independent"}},
   "layer": [
    {"data": {"values": [{"a": 0.00388, "b": 0.00415}]}, "mark": {"type": "rect", "color": "#e3e3e3"},
     "encoding": {"x": {"field": "a", "type": "quantitative", "scale": {"domain": [0.0025, 0.00529], "nice": false, "zero": false}, "axis": {"orient": "bottom", "values": [0.003, 0.0035, 0.004, 0.0045, 0.005], "format": "~g", "labelExpr": "abs(datum.value*1000 - round(datum.value*1000)) < 0.01 ? datum.label : ''", "title": "T", "titlePadding": 1, "zindex": 1}}, "x2": {"field": "b"}}},
    {"data": {"name": "main"}, "transform": [{"filter": "datum.p === 'N'"}], "mark": {"type": "line", "strokeWidth": 1.6},
     "encoding": {"x": {"field": "T", "type": "quantitative", "scale": {"domain": [0.0025, 0.00529], "nice": false, "zero": false}, "axis": null},
      "y": {"field": "v", "type": "quantitative", "scale": {"domain": [-0.05, 0.3], "nice": false, "zero": false}, "axis": {"orient": "left", "values": [0, 0.05, 0.1, 0.15, 0.2, 0.25], "format": "~g", "labelExpr": "abs(datum.value*10 - round(datum.value*10)) < 0.01 ? datum.label : ''", "title": "N", "titlePadding": 5, "labelPadding": 15, "zindex": 1}},
      "color": {"field": "s", "type": "nominal", "scale": {"domain": ["t","6","FDCL","other","D4","FDLC","FDCLt"], "range": ["#1b3da8","#ffa51d","#8cc43f","#1b3da8","#ffa51d","#ee3a1f","#4f8c2c"]}, "legend": null}}},
    {"data": {"name": "main"}, "transform": [{"filter": "datum.p === 'N'"}], "mark": {"type": "circle", "size": 40, "opacity": 1},
     "encoding": {"x": {"field": "T", "type": "quantitative", "scale": {"domain": [0.0025, 0.00529], "nice": false, "zero": false}, "axis": null},
      "y": {"field": "v", "type": "quantitative", "scale": {"domain": [-0.05, 0.3], "nice": false, "zero": false}, "axis": {"orient": "right", "values": [0, 0.05, 0.1, 0.15, 0.2, 0.25], "labels": false, "title": null, "zindex": 1}},
      "color": {"field": "s", "type": "nominal", "scale": {"domain": ["t","6","FDCL","other","D4","FDLC","FDCLt"], "range": ["#1b3da8","#ffa51d","#8cc43f","#1b3da8","#ffa51d","#ee3a1f","#4f8c2c"]}, "legend": null}}},
    {"data": {"name": "nlab"}, "mark": {"type": "text", "align": "left", "baseline": "alphabetic", "fontSize": 18},
     "encoding": {"x": {"field": "T", "type": "quantitative", "scale": {"domain": [0.0025, 0.00529], "nice": false, "zero": false}, "axis": null},
      "y": {"field": "v", "type": "quantitative", "scale": {"domain": [-0.05, 0.3], "nice": false, "zero": false}, "axis": null}, "text": {"field": "b"},
      "color": {"field": "k", "type": "nominal", "scale": {"domain": ["t","6","FDCL","other","D4","FDLC","FDCLt"], "range": ["#1b3da8","#ffa51d","#8cc43f","#1b3da8","#ffa51d","#ee3a1f","#4f8c2c"]}, "legend": null}}},
    {"data": {"name": "nlab"}, "mark": {"type": "text", "align": "left", "baseline": "alphabetic", "fontSize": 15.5, "dx": 13, "dy": 2},
     "encoding": {"x": {"field": "T", "type": "quantitative", "scale": {"domain": [0.0025, 0.00529], "nice": false, "zero": false}, "axis": null},
      "y": {"field": "v", "type": "quantitative", "scale": {"domain": [-0.05, 0.3], "nice": false, "zero": false}, "axis": null}, "text": {"field": "sub"},
      "color": {"field": "k", "type": "nominal", "scale": {"domain": ["t","6","FDCL","other","D4","FDLC","FDCLt"], "range": ["#1b3da8","#ffa51d","#8cc43f","#1b3da8","#ffa51d","#ee3a1f","#4f8c2c"]}, "legend": null}}}
   ]
  },
  {
   "resolve": {"axis": {"x": "independent", "y": "independent"}},
   "layer": [
    {"data": {"values": [{"a": 0.003758, "b": 0.004276, "lo": -0.02, "hi": 0.08}]}, "mark": {"type": "rect", "fill": "white"},
     "encoding": {"x": {"field": "a", "type": "quantitative", "scale": {"domain": [0.003725, 0.004849], "nice": false, "zero": false}, "axis": {"orient": "bottom", "offset": -212.7, "domain": false, "values": [0.0038, 0.0039, 0.004, 0.0041, 0.0042], "format": "~g", "labelExpr": "abs(datum.value*5000 - round(datum.value*5000)) < 0.01 ? datum.label : ''", "tickSize": -5, "labelPadding": 10.5, "labelFontSize": 15, "title": "T", "titleFontSize": 15, "titlePadding": 0, "titleX": 121.5, "zindex": 1}}, "x2": {"field": "b"},
      "y": {"field": "lo", "type": "quantitative", "scale": {"domain": [-0.1958, 0.0902], "nice": false, "zero": false}, "axis": {"orient": "left", "offset": -13.7, "domain": false, "values": [0, 0.02, 0.04, 0.06], "labels": false, "tickSize": -5, "title": null, "zindex": 1}}, "y2": {"field": "hi"}}},
    {"data": {"values": [{"a": 0.00388, "b": 0.00414, "lo": -0.02, "hi": 0.08}]}, "mark": {"type": "rect", "fill": "#e3e3e3"},
     "encoding": {"x": {"field": "a", "type": "quantitative", "scale": {"domain": [0.003725, 0.004849], "nice": false, "zero": false}, "axis": {"orient": "top", "offset": -12.3, "domain": false, "values": [0.0038, 0.0039, 0.004, 0.0041, 0.0042], "labels": false, "tickSize": -5, "title": null, "zindex": 1}}, "x2": {"field": "b"},
      "y": {"field": "lo", "type": "quantitative", "scale": {"domain": [-0.1958, 0.0902], "nice": false, "zero": false}, "axis": {"orient": "right", "offset": -238.6, "domain": false, "values": [0, 0.02, 0.04, 0.06], "format": "~g", "tickSize": -5, "labelPadding": 8.5, "labelFontSize": 15, "title": "N", "titleFontSize": 15, "titlePadding": 1, "titleY": 72.8, "zindex": 1}}, "y2": {"field": "hi"}}},
    {"data": {"name": "inset"}, "mark": {"type": "line", "strokeWidth": 1.2},
     "encoding": {"x": {"field": "T", "type": "quantitative", "scale": {"domain": [0.003725, 0.004849], "nice": false, "zero": false}, "axis": null},
      "y": {"field": "v", "type": "quantitative", "scale": {"domain": [-0.1958, 0.0902], "nice": false, "zero": false}, "axis": null},
      "color": {"field": "s", "type": "nominal", "scale": {"domain": ["t","6","FDCL","other","D4","FDLC","FDCLt"], "range": ["#1b3da8","#ffa51d","#8cc43f","#1b3da8","#ffa51d","#ee3a1f","#4f8c2c"]}, "legend": null}}},
    {"data": {"name": "inset"}, "mark": {"type": "circle", "size": 16, "opacity": 1},
     "encoding": {"x": {"field": "T", "type": "quantitative", "scale": {"domain": [0.003725, 0.004849], "nice": false, "zero": false}, "axis": null},
      "y": {"field": "v", "type": "quantitative", "scale": {"domain": [-0.1958, 0.0902], "nice": false, "zero": false}, "axis": null},
      "color": {"field": "s", "type": "nominal", "scale": {"domain": ["t","6","FDCL","other","D4","FDLC","FDCLt"], "range": ["#1b3da8","#ffa51d","#8cc43f","#1b3da8","#ffa51d","#ee3a1f","#4f8c2c"]}, "legend": null}}},
    {"data": {"values": [{"a": 0.003758, "b": 0.004276, "lo": -0.02, "hi": 0.08}]}, "mark": {"type": "rect", "fill": null, "stroke": "#888", "strokeWidth": 1},
     "encoding": {"x": {"field": "a", "type": "quantitative", "scale": {"domain": [0.003725, 0.004849], "nice": false, "zero": false}, "axis": null}, "x2": {"field": "b"},
      "y": {"field": "lo", "type": "quantitative", "scale": {"domain": [-0.1958, 0.0902], "nice": false, "zero": false}, "axis": null}, "y2": {"field": "hi"}}}
   ]
  }
 ]
}
]
}
